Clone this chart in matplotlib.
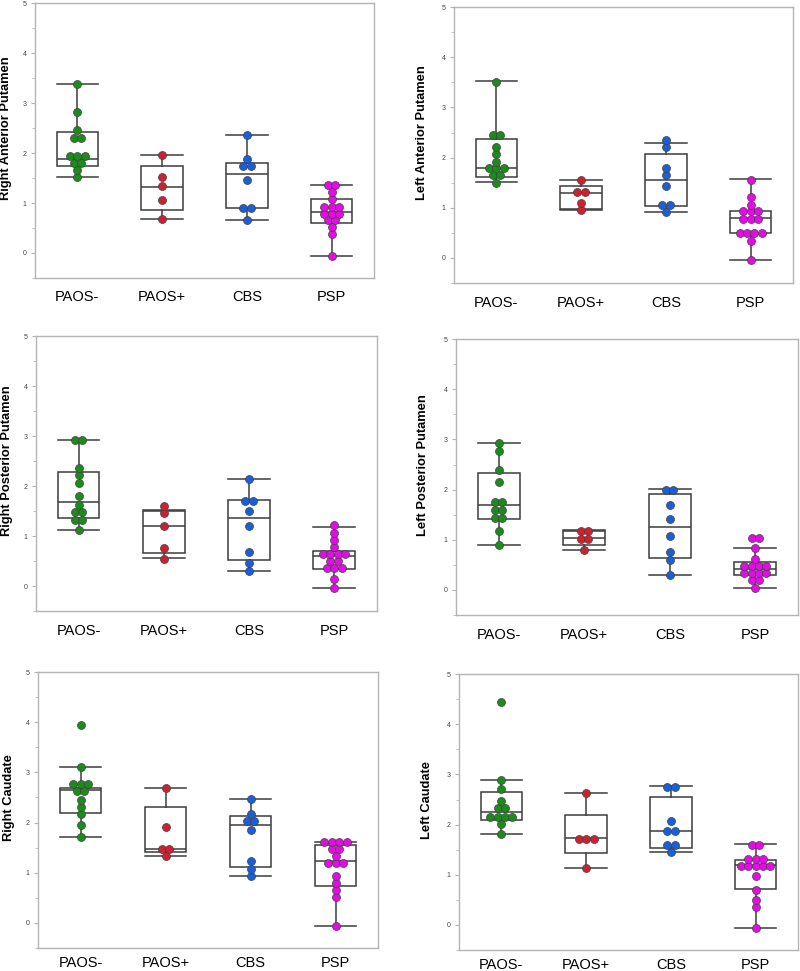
import numpy as np
import matplotlib
matplotlib.use("Agg")
import matplotlib.pyplot as plt
from matplotlib.ticker import MultipleLocator

plt.rcParams['font.family'] = ['Liberation Sans', 'DejaVu Sans']

groups = ["PAOS-", "PAOS+", "CBS", "PSP"]
colors = ["#1b8c1b", "#d01f2e", "#1a5fd8", "#e60be6"]

titles = ["Right Anterior Putamen", "Left Anterior Putamen",
          "Right Posterior Putamen", "Left Posterior Putamen",
          "Right Caudate", "Left Caudate"]

# points, one list per group
rap = [
    [3.38, 2.83, 2.47, 2.31, 2.31, 1.94, 1.94, 1.94, 1.80, 1.80, 1.67, 1.53],
    [1.97, 1.52, 1.34, 1.07, 0.69],
    [2.36, 1.89, 1.75, 1.75, 1.46, 0.91, 0.91, 0.67],
    [1.37, 1.37, 1.23, 1.09, 0.92, 0.92, 0.92, 0.79, 0.79, 0.79, 0.65, 0.65, 0.51, 0.37, -0.06],
]
lap = [
    [3.51, 2.46, 2.46, 2.21, 2.07, 1.92, 1.79, 1.79, 1.79, 1.65, 1.65, 1.50],
    [1.55, 1.31, 1.31, 1.10, 0.96],
    [2.35, 2.21, 1.80, 1.66, 1.44, 1.06, 1.06, 0.92],
    [1.56, 1.22, 1.06, 0.93, 0.93, 0.93, 0.78, 0.78, 0.78, 0.49, 0.49, 0.49, 0.49, 0.34, -0.05],
]
rpp = [
    [2.92, 2.92, 2.36, 2.22, 2.07, 1.80, 1.62, 1.48, 1.48, 1.33, 1.33, 1.12],
    [1.60, 1.46, 1.21, 0.76, 0.55],
    [2.14, 1.70, 1.70, 1.50, 1.21, 0.69, 0.47, 0.30],
    [1.22, 1.07, 0.93, 0.79, 0.65, 0.65, 0.65, 0.65, 0.51, 0.51, 0.37, 0.37, 0.37, 0.15, -0.04],
]
lpp = [
    [2.93, 2.77, 2.39, 2.16, 1.75, 1.75, 1.60, 1.60, 1.44, 1.44, 1.18, 0.90],
    [1.18, 1.18, 1.02, 1.02, 0.80],
    [2.00, 2.00, 1.70, 1.42, 1.08, 0.75, 0.59, 0.29],
    [1.04, 1.04, 0.84, 0.62, 0.48, 0.48, 0.48, 0.48, 0.34, 0.34, 0.34, 0.34, 0.20, 0.20, 0.04],
]
rc = [
    [3.95, 3.10, 2.77, 2.77, 2.77, 2.63, 2.63, 2.45, 2.31, 2.17, 1.95, 1.72],
    [2.69, 1.92, 1.48, 1.48, 1.34],
    [2.47, 2.18, 2.04, 2.04, 1.85, 1.24, 1.08, 0.94],
    [1.62, 1.62, 1.62, 1.62, 1.47, 1.47, 1.33, 1.19, 1.19, 1.19, 0.93, 0.79, 0.66, 0.51, -0.07],
]
lc = [
    [4.44, 2.89, 2.71, 2.47, 2.33, 2.33, 2.16, 2.16, 2.16, 2.16, 2.01, 1.815],
    [2.62, 1.72, 1.72, 1.72, 1.13],
    [2.74, 2.74, 2.08, 1.87, 1.87, 1.60, 1.60, 1.45],
    [1.60, 1.60, 1.32, 1.32, 1.32, 1.18, 1.18, 1.18, 1.18, 1.18, 0.98, 0.70, 0.49, 0.35, -0.07],
]
points = [rap, lap, rpp, lpp, rc, lc]

# box stats: (whisker low, q1, median, q3, whisker high)
rap_box = [(1.53, 1.74, 1.88, 2.42, 3.38), (0.69, 0.87, 1.33, 1.74, 1.96),
           (0.67, 0.90, 1.58, 1.81, 2.36), (-0.07, 0.60, 0.82, 1.085, 1.36)]
lap_box = [(1.51, 1.62, 1.80, 2.38, 3.52), (0.965, 0.97, 1.30, 1.43, 1.56),
           (0.92, 1.04, 1.55, 2.08, 2.30), (-0.04, 0.49, 0.80, 0.94, 1.57)]
rpp_box = [(1.12, 1.37, 1.68, 2.28, 2.93), (0.56, 0.67, 1.205, 1.50, 1.53),
           (0.30, 0.53, 1.36, 1.72, 2.14), (-0.04, 0.35, 0.60, 0.70, 1.185)]
lpp_box = [(0.90, 1.42, 1.69, 2.33, 2.93), (0.80, 0.90, 1.04, 1.18, 1.185),
           (0.29, 0.63, 1.26, 1.91, 2.02), (0.04, 0.29, 0.42, 0.56, 0.84)]
rc_box = [(1.72, 2.19, 2.64, 2.69, 3.10), (1.34, 1.41, 1.47, 2.30, 2.68),
          (0.94, 1.11, 1.95, 2.13, 2.47), (-0.07, 0.745, 1.24, 1.55, 1.61)]
lc_box = [(1.815, 2.09, 2.25, 2.65, 2.89), (1.13, 1.43, 1.735, 2.19, 2.62),
          (1.45, 1.53, 1.875, 2.55, 2.76), (-0.07, 0.71, 1.19, 1.29, 1.61)]
boxes = [rap_box, lap_box, rpp_box, lpp_box, rc_box, lc_box]

# axes rectangles in figure fraction (left, bottom, width, height)
rects = [
    (0.0438, 0.7137, 0.4238, 0.2832), (0.5675, 0.7085, 0.4238, 0.2842),
    (0.0450, 0.3707, 0.4260, 0.2832), (0.5700, 0.3666, 0.4275, 0.2842),
    (0.0475, 0.0237, 0.4250, 0.2842), (0.5738, 0.0216, 0.4238, 0.2842),
]

line_c = "#3c3c3c"
frame_c = "#b4b4b4"
step = 0.087   # horizontal gap between tied points


def draw_panel(ax, pts, stats, title, lab_x, xpad):
    bx = []
    for (lo, q1, med, q3, hi) in stats:
        bx.append(dict(whislo=lo, q1=q1, med=med, q3=q3, whishi=hi, fliers=[]))
    style = dict(color=line_c, linewidth=1.1)
    ax.bxp(bx, positions=range(len(groups)), widths=0.49, showfliers=False,
           patch_artist=True,
           boxprops=dict(facecolor="white", edgecolor=line_c, linewidth=1.1),
           medianprops=style, whiskerprops=style, capprops=style,
           capwidths=0.49, zorder=2)

    for i, vals in enumerate(pts):
        vals = np.array(vals)
        levels, counts = np.unique(vals, return_counts=True)
        for lev, k in zip(levels, counts):
            xs = i + (np.arange(k) - (k - 1) / 2) * step
            ax.scatter(xs, np.full(k, lev), s=33, color=colors[i],
                       edgecolor="#404040", linewidth=0.5, zorder=3)

    ax.set_xlim(-0.5, 3.5)
    ax.set_ylim(-0.5, 5)
    ax.set_xticks(range(len(groups)))
    ax.set_xticklabels(groups, fontsize=10.5)
    ax.tick_params(axis="x", length=0, pad=xpad)
    ax.yaxis.set_minor_locator(MultipleLocator(0.5))
    ax.set_yticks(range(0, 6))
    ax.tick_params(axis="y", which="major", labelsize=5, length=3,
                   color=frame_c, labelcolor="#444444", pad=3)
    ax.tick_params(axis="y", which="minor", length=2, color=frame_c)
    for sp in ax.spines.values():
        sp.set_color(frame_c)
        sp.set_linewidth(1.0)
    ax.set_ylabel(title, fontsize=9.3, fontweight="bold")
    ax.yaxis.set_label_coords(lab_x, 0.545)


fig = plt.figure(figsize=(8, 9.71), dpi=100)
for n in range(6):
    ax = fig.add_axes(rects[n])
    lab_x = -0.068 if n % 2 == 0 else -0.078
    xpad = 5.5 if n >= 4 else 9
    draw_panel(ax, points[n], boxes[n], titles[n], lab_x, xpad)

fig.savefig("out.png", dpi=100)
